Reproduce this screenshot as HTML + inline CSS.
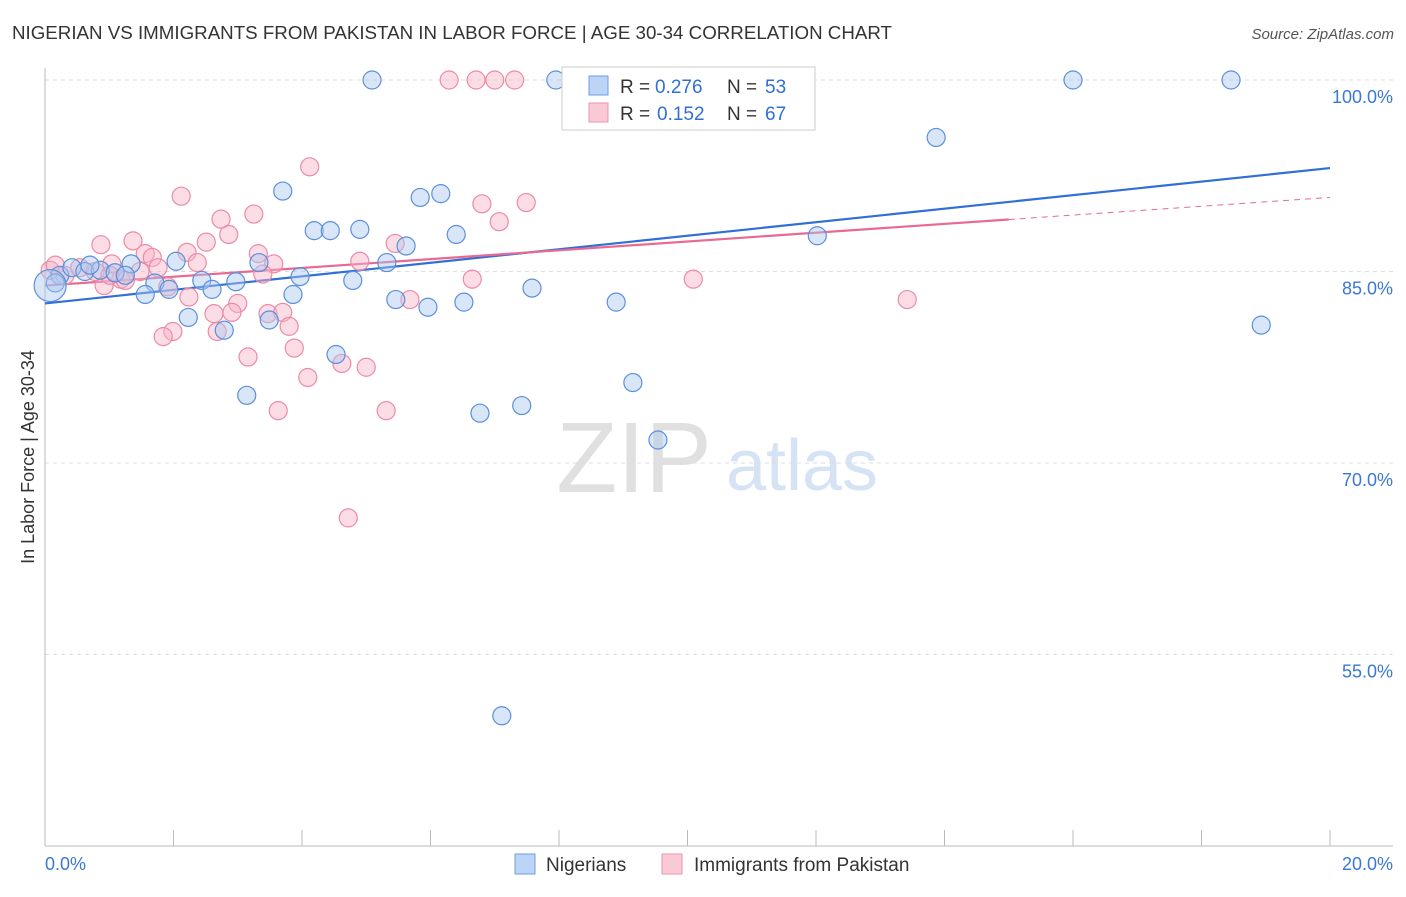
<!DOCTYPE html>
<html><head><meta charset="utf-8"><style>
body{margin:0;background:#fff;font-family:"Liberation Sans",sans-serif;}
svg text{font-family:"Liberation Sans",sans-serif;}
</style></head><body>
<svg id="chart" width="1406" height="892" viewBox="0 0 1406 892">
<text x="12" y="39" font-size="18" fill="#333" textLength="880" lengthAdjust="spacingAndGlyphs">NIGERIAN VS IMMIGRANTS FROM PAKISTAN IN LABOR FORCE | AGE 30-34 CORRELATION CHART</text>
<text x="1394" y="39" font-size="15" fill="#555" font-style="italic" text-anchor="end">Source: ZipAtlas.com</text>
<text x="34" y="457" font-size="18" fill="#333" text-anchor="middle" transform="rotate(-90 34 457)">In Labor Force | Age 30-34</text>
<g>
<text x="634" y="492" font-size="100" fill="#e0e0e0" font-family="Liberation Serif" text-anchor="middle">ZIP</text>
<text x="802" y="490" font-size="72" fill="#d6e3f5" text-anchor="middle">atlas</text>
</g>
<g id="grid"></g><g id="axes"></g><g id="lines"></g><g id="pink"></g><g id="blue"></g>
<g>
<rect x="562" y="67" width="253" height="63" fill="#fff" stroke="#ccc"/>
<rect x="589" y="76" width="19" height="19" fill="#bcd4f5" stroke="#6d9ee0"/>
<text y="93" font-size="19" fill="#333"><tspan x="620">R =</tspan><tspan x="655" fill="#2f6fd6">0.276</tspan><tspan x="727">N =</tspan><tspan x="765" fill="#2f6fd6">53</tspan></text>
<rect x="589" y="103" width="19" height="19" fill="#f9c9d6" stroke="#ee93ac"/>
<text y="120" font-size="19" fill="#333"><tspan x="620">R =</tspan><tspan x="657" fill="#2f6fd6">0.152</tspan><tspan x="727">N =</tspan><tspan x="765" fill="#2f6fd6">67</tspan></text>
</g>
<g>
<rect x="515" y="854" width="20" height="20" fill="#bcd4f5" stroke="#6d9ee0"/>
<text x="546" y="871" font-size="19" fill="#333">Nigerians</text>
<rect x="662" y="854" width="20" height="20" fill="#f9c9d6" stroke="#ee93ac"/>
<text x="694" y="871" font-size="19" fill="#333">Immigrants from Pakistan</text>
</g>
</svg>
<script>
const blueX=[5.09,7.95,10.74,16.0,18.46,10.27,13.87,3.70,5.84,6.16,4.19,4.44,4.90,6.40,5.62,12.02,2.04,1.34,3.33,5.32,3.97,4.79,2.44,2.97,2.60,1.71,1.93,1.56,3.86,7.58,5.46,5.96,6.52,8.89,2.23,2.79,3.49,18.93,4.53,9.15,3.14,6.77,7.42,9.54,7.11,0.23,0.42,0.62,0.86,1.09,1.25,0.16,0.70,0.08];
const blueY=[100,100,100,100,100,100,95.5,91.3,90.8,91.1,88.2,88.2,88.3,87.9,87.0,87.8,85.8,85.6,85.7,85.7,84.6,84.3,84.3,84.2,83.6,84.1,83.6,83.2,83.2,83.7,82.8,82.2,82.6,82.6,81.4,80.4,81.2,80.8,78.5,76.3,75.3,73.9,74.5,71.8,50.2,84.7,85.3,85.0,85.1,84.9,84.7,84.1,85.5,83.9];
const pinkX=[6.29,6.71,7.0,7.31,4.12,2.12,3.25,6.80,7.49,2.74,7.07,2.86,2.51,0.87,1.37,5.45,2.21,1.56,1.67,3.32,4.90,2.37,3.56,1.76,1.04,3.39,6.65,10.09,1.91,1.18,0.92,2.24,3.00,5.68,13.42,2.63,2.91,3.47,3.70,3.80,1.99,1.84,2.68,3.88,3.16,4.62,5.00,4.09,3.63,5.31,4.72,0.08,0.16,0.31,0.54,0.78,1.01,1.25,1.48];
const pinkY=[100,100,100,100,93.2,90.9,89.5,90.3,90.4,89.1,88.9,87.9,87.3,87.1,87.4,87.2,86.5,86.4,86.1,86.4,85.8,85.7,85.6,85.3,85.6,84.8,84.4,84.4,83.8,84.4,83.9,83.0,82.5,82.8,82.8,81.7,81.8,81.7,81.8,80.7,80.3,79.9,80.3,79.0,78.3,77.8,77.5,76.7,74.1,74.1,65.7,85.1,85.5,84.7,85.3,85.0,84.7,84.3,85.0];
const blueTrend=[82.5,93.1];
const pinkTrend=[83.9,90.8];
const yTicks=[100,85,70,55];
const xTickLabels=["0.0%","20.0%"];
const NS="http://www.w3.org/2000/svg";
const sx=v=>45+v/20*1285;
const sy=v=>80+(100-v)/15*191.5;
function mk(tag,attrs,parent){const e=document.createElementNS(NS,tag);for(const k in attrs)e.setAttribute(k,attrs[k]);parent.appendChild(e);return e;}
const grid=document.getElementById('grid'),axes=document.getElementById('axes');
yTicks.forEach(t=>{
 const l=mk('line',{x1:45,x2:1393,y1:sy(t),y2:sy(t),stroke:'#ddd','stroke-dasharray':'4,4'},grid);
 
 
 const tx=mk('text',{x:1393,y:sy(t)+23,'font-size':18,fill:'#3a78d4','text-anchor':'end'},axes);
 tx.textContent=t.toFixed(1)+'%';
 
 
});
mk('line',{x1:45,x2:45,y1:68,y2:846,stroke:'#bbb'},axes);
mk('line',{x1:45,x2:1393,y1:846,y2:846,stroke:'#bbb'},axes);
for(let i=0;i<=10;i++){const t=mk('line',{x1:sx(i*2),x2:sx(i*2),y1:830,y2:846,stroke:'#bbb'},axes);
 
 }
const l0=mk('text',{x:45,y:870,'font-size':18,fill:'#3a78d4'},axes);l0.textContent=xTickLabels[0];


const l1=mk('text',{x:1393,y:870,'font-size':18,fill:'#3a78d4','text-anchor':'end'},axes);l1.textContent=xTickLabels[1];


function draw(xs,ys,g,fill,stroke,name,bigR){xs.forEach((x,i)=>{const r=(i===xs.length-1)?bigR:9;const c=mk('circle',{cx:sx(x),cy:sy(ys[i]),r:r,fill:fill,stroke:stroke,'stroke-width':1.2},document.getElementById(g));
 
 });}
draw(pinkX,pinkY,'pink','rgba(248,180,200,0.45)','#ec8aa6','pakistan-point',9);
draw(blueX,blueY,'blue','rgba(170,200,240,0.45)','#5b8fdc','nigerian-point',16);
const lines=document.getElementById('lines');
const bl=mk('line',{x1:sx(0),y1:sy(blueTrend[0]),x2:sx(20),y2:sy(blueTrend[1]),stroke:'#2f6fd6','stroke-width':2.2},lines);


const py=x=>pinkTrend[0]+(pinkTrend[1]-pinkTrend[0])*x/20;
const pl=mk('line',{x1:sx(0),y1:sy(py(0)),x2:sx(15),y2:sy(py(15)),stroke:'#e86a92','stroke-width':2.2},lines);


const pd=mk('line',{x1:sx(15),y1:sy(py(15)),x2:sx(20),y2:sy(py(20)),stroke:'#e86a92','stroke-width':1,'stroke-dasharray':'6,5'},lines);


</script>
</body></html>
